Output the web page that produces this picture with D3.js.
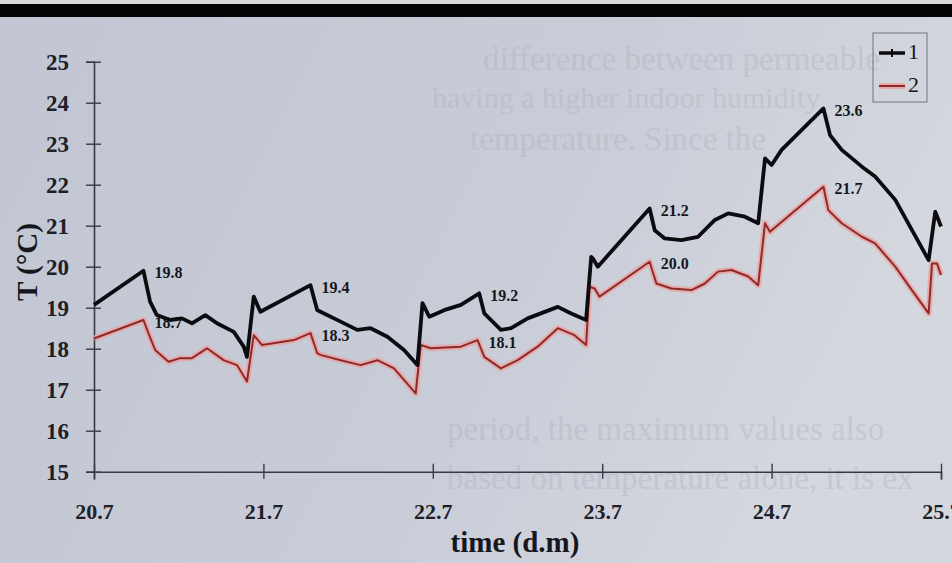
<!DOCTYPE html>
<html>
<head>
<meta charset="utf-8">
<script src="https://cdn.jsdelivr.net/npm/d3@7"></script>
<style>
  html, body { margin: 0; padding: 0; background: #c8ccd6; }
  svg { display: block; }
</style>
</head>
<body>
<svg id="chart" width="952" height="563"></svg>
<script>
// ---------- data ----------
const dayTickLabels = ["20.7", "21.7", "22.7", "23.7", "24.7", "25.7"];
const tempTicks = [15, 16, 17, 18, 19, 20, 21, 22, 23, 24, 25];
const seriesNames = ["1", "2"];

// time in days after 20.7
const time1 = [0, 0.292, 0.331, 0.371, 0.45, 0.519, 0.578, 0.657, 0.726, 0.825, 0.884, 0.903, 0.943, 0.982,
  1.278, 1.318, 1.337, 1.456, 1.554, 1.633, 1.732, 1.830, 1.909, 1.939, 1.979, 2.067, 2.166, 2.274, 2.304,
  2.402, 2.462, 2.560, 2.738, 2.817, 2.905, 2.935, 2.945, 2.974, 3.280, 3.310, 3.369, 3.467, 3.566, 3.665,
  3.744, 3.842, 3.921, 3.961, 4.0, 4.059, 4.306, 4.345, 4.414, 4.533, 4.611, 4.730, 4.828, 4.927, 4.966, 5.0];
const temp1 = [19.07, 19.90, 19.15, 18.82, 18.70, 18.74, 18.62, 18.82, 18.62, 18.41, 18.05, 17.80, 19.27, 18.90,
  19.55, 18.94, 18.90, 18.66, 18.46, 18.50, 18.29, 17.97, 17.60, 19.11, 18.78, 18.94, 19.07, 19.35, 18.86,
  18.46, 18.50, 18.74, 19.02, 18.86, 18.70, 20.24, 20.20, 20.00, 21.42, 20.89, 20.69, 20.65, 20.73, 21.14,
  21.30, 21.22, 21.06, 22.64, 22.48, 22.85, 23.86, 23.21, 22.85, 22.44, 22.20, 21.63, 20.90, 20.16, 21.34, 20.98];

const time2 = [0, 0.292, 0.321, 0.361, 0.440, 0.509, 0.578, 0.667, 0.765, 0.844, 0.903, 0.943, 0.992, 1.180,
  1.278, 1.318, 1.337, 1.456, 1.574, 1.673, 1.771, 1.899, 1.929, 1.988, 2.166, 2.264, 2.304, 2.402, 2.501,
  2.619, 2.738, 2.836, 2.905, 2.925, 2.955, 2.984, 3.280, 3.320, 3.408, 3.527, 3.606, 3.684, 3.763, 3.862,
  3.921, 3.961, 3.990, 4.306, 4.335, 4.414, 4.533, 4.611, 4.730, 4.828, 4.927, 4.947, 4.976, 5.0];
const temp2 = [18.25, 18.70, 18.38, 17.97, 17.68, 17.77, 17.77, 18.01, 17.72, 17.60, 17.20, 18.33, 18.09, 18.21,
  18.38, 17.89, 17.85, 17.72, 17.60, 17.72, 17.52, 16.91, 18.09, 18.01, 18.05, 18.21, 17.80, 17.52, 17.72,
  18.05, 18.50, 18.33, 18.09, 19.51, 19.47, 19.27, 20.12, 19.59, 19.47, 19.43, 19.59, 19.88, 19.92, 19.76,
  19.55, 21.06, 20.85, 21.95, 21.38, 21.06, 20.73, 20.57, 20.00, 19.43, 18.86, 20.08, 20.08, 19.80];

// peak labels: [series index, point index, text]
const peakLabels = [
  [0, 1, "19.8"], [1, 1, "18.7"],
  [0, 14, "19.4"], [1, 14, "18.3"],
  [0, 27, "19.2"], [1, 25, "18.1"],
  [0, 38, "21.2"], [1, 36, "20.0"],
  [0, 50, "23.6"], [1, 47, "21.7"]
];

// faint show-through text of the printed page
const showThrough = [
  "difference between permeable",
  "having a higher indoor humidity",
  "temperature.  Since the",
  "period, the maximum values also",
  "based on temperature alone, it is ex"
];

// ---------- drawing ----------
const svg = d3.select("#chart");
const W = 952, H = 563;
const serif = "'Liberation Serif', 'DejaVu Serif', serif";

const defs = svg.append("defs");
const bg = defs.append("linearGradient").attr("id", "bg").attr("x1", 0).attr("x2", 1).attr("y1", 0).attr("y2", 0.3);
bg.append("stop").attr("offset", "0%").attr("stop-color", "#c1c6d2");
bg.append("stop").attr("offset", "60%").attr("stop-color", "#c8ccd7");
bg.append("stop").attr("offset", "100%").attr("stop-color", "#d5d7de");

svg.append("rect").attr("width", W).attr("height", H).attr("fill", "url(#bg)");
svg.append("rect").attr("width", W).attr("height", 4).attr("fill", "#d9d9d9");
svg.append("rect").attr("y", 4).attr("width", W).attr("height", 13).attr("fill", "#050505");

// show-through text
const stY = [62, 101, 142, 432, 481];
const stX = [483, 432, 470, 447, 447];
const stSize = [33, 30, 33, 33, 33];
svg.append("g").selectAll("text").data(showThrough).join("text")
  .attr("x", (d, i) => stX[i]).attr("y", (d, i) => stY[i])
  .attr("dominant-baseline", "middle")
  .attr("font-family", serif).attr("font-size", (d, i) => stSize[i])
  .attr("fill", "#a9aebb").attr("opacity", 0.35)
  .text(d => d);

const x = d3.scaleLinear().domain([0, 5]).range([94, 941]);
const y = d3.scaleLinear().domain([15, 25]).range([471.7, 61.7]);

const axisColor = "#363b46";

// y axis
const yAxis = svg.append("g").attr("transform", `translate(${x(0)},0)`)
  .call(d3.axisLeft(y).tickValues(tempTicks).tickSize(8).tickPadding(17).tickFormat(d3.format("d")));
yAxis.select(".domain").attr("stroke", axisColor).attr("stroke-width", 1.6);
yAxis.selectAll(".tick line").attr("x1", 7).attr("x2", -8).attr("stroke", axisColor).attr("stroke-width", 1.4);
yAxis.selectAll(".tick text").attr("font-family", serif).attr("font-size", 23).attr("font-weight", "bold")
  .attr("fill", "#1e2028");

// x axis
const xAxis = svg.append("g").attr("transform", `translate(0,${y(15)})`)
  .call(d3.axisBottom(x).tickValues(d3.range(dayTickLabels.length)).tickSize(8).tickPadding(24)
    .tickFormat((d, i) => dayTickLabels[i]));
xAxis.select(".domain").attr("stroke", axisColor).attr("stroke-width", 1.6);
xAxis.selectAll(".tick line").attr("y1", -8).attr("y2", 7).attr("stroke", axisColor).attr("stroke-width", 1.4);
xAxis.selectAll(".tick text").attr("font-family", serif).attr("font-size", 22).attr("font-weight", "bold")
  .attr("fill", "#1e2028");

// axis titles
svg.append("text").attr("x", 515).attr("y", 552).attr("text-anchor", "middle")
  .attr("font-family", serif).attr("font-size", 29).attr("font-weight", "bold").attr("fill", "#15171d")
  .text("time (d.m)");
svg.append("text").attr("transform", "translate(37,262) rotate(-90)").attr("text-anchor", "middle")
  .attr("font-family", serif).attr("font-size", 29).attr("font-weight", "bold").attr("fill", "#15171d")
  .text("T (°C)");

// peak labels (drawn below lines)
const seriesData = [
  time1.map((t, i) => [t, temp1[i]]),
  time2.map((t, i) => [t, temp2[i]])
];
svg.append("g").selectAll("text").data(peakLabels).join("text")
  .attr("x", d => x(seriesData[d[0]][d[1]][0]) + 11)
  .attr("y", d => y(seriesData[d[0]][d[1]][1]) + 4)
  .attr("dominant-baseline", "middle")
  .attr("font-family", serif).attr("font-size", 16).attr("font-weight", "bold").attr("fill", "#15171d")
  .text(d => d[2]);

const line = d3.line().x(d => x(d[0])).y(d => y(d[1])).curve(d3.curveLinear);

// series 2 (red with pink halo)
svg.append("path").datum(seriesData[1]).attr("d", line).attr("fill", "none")
  .attr("stroke", "#eaa3a3").attr("stroke-width", 6).attr("stroke-linejoin", "round").attr("opacity", 0.8);
svg.append("path").datum(seriesData[1]).attr("d", line).attr("fill", "none")
  .attr("stroke", "#8f2a2a").attr("stroke-width", 2).attr("stroke-linejoin", "round");

// series 1 (black)
svg.append("path").datum(seriesData[0]).attr("d", line).attr("fill", "none")
  .attr("stroke", "#0c0c10").attr("stroke-width", 3.8).attr("stroke-linejoin", "round");

// legend
const lg = svg.append("g");
lg.append("rect").attr("x", 873).attr("y", 33).attr("width", 54).attr("height", 69)
  .attr("fill", "none").attr("stroke", "#7f8491").attr("stroke-width", 1.2);
const legY = [53, 86];
seriesNames.forEach((name, i) => {
  if (i === 1) {
    lg.append("line").attr("x1", 879).attr("x2", 905).attr("y1", legY[i]).attr("y2", legY[i])
      .attr("stroke", "#eaa3a3").attr("stroke-width", 6).attr("opacity", 0.8);
    lg.append("line").attr("x1", 879).attr("x2", 905).attr("y1", legY[i]).attr("y2", legY[i])
      .attr("stroke", "#8f2a2a").attr("stroke-width", 2);
  } else {
    lg.append("line").attr("x1", 879).attr("x2", 905).attr("y1", legY[i]).attr("y2", legY[i])
      .attr("stroke", "#0c0c10").attr("stroke-width", 3.5);
    lg.append("line").attr("x1", 892).attr("x2", 892).attr("y1", legY[i] - 4).attr("y2", legY[i] + 4)
      .attr("stroke", "#0c0c10").attr("stroke-width", 2);
  }
  lg.append("text").attr("x", 908).attr("y", legY[i] + 1).attr("dominant-baseline", "middle")
    .attr("font-family", serif).attr("font-size", 22).attr("fill", "#15171d").text(name);
});
</script>
</body>
</html>
